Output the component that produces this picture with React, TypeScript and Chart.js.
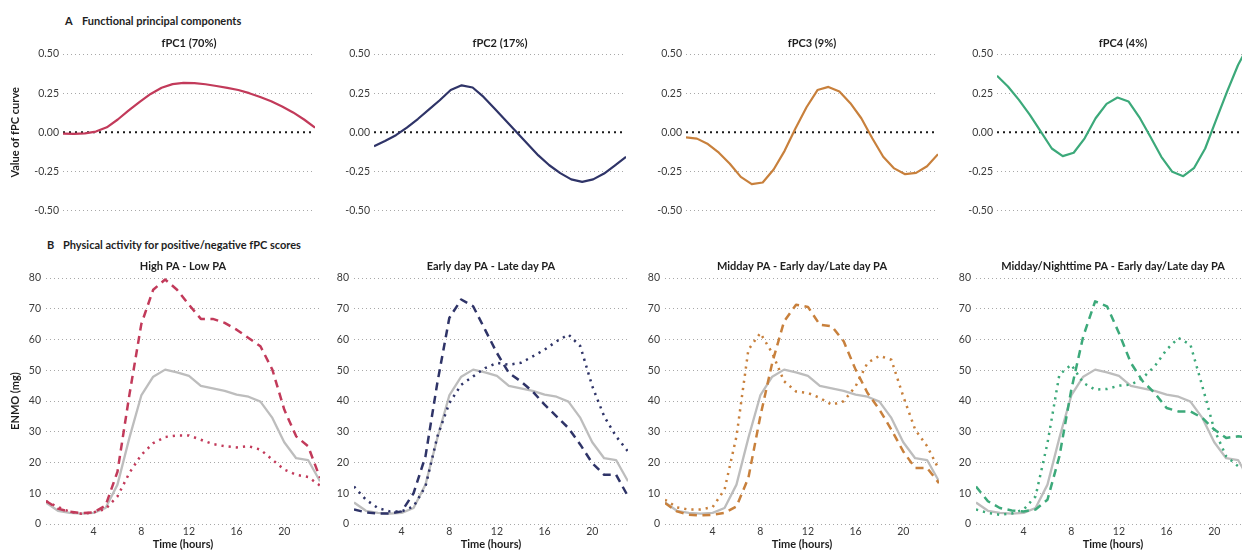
import React, { useEffect, useRef } from "react";
import { Chart, registerables } from "chart.js";

Chart.register(...registerables);

// ---------- data ----------
const hours = [0, 1, 2, 3, 4, 5, 6, 7, 8, 9, 10, 11, 12, 13, 14, 15, 16, 17, 18, 19, 20, 21, 22, 23];
const xTickValues = [4, 8, 12, 16, 20];
const topYTicks = [-0.5, -0.25, 0, 0.25, 0.5];
const bottomYTicks = [0, 10, 20, 30, 40, 50, 60, 70, 80];

const fpcTitles = ["fPC1 (70%)", "fPC2 (17%)", "fPC3 (9%)", "fPC4 (4%)"];
const paTitles = [
  "High PA - Low PA",
  "Early day PA - Late day PA",
  "Midday PA - Early day/Late day PA",
  "Midday/Nighttime PA - Early day/Late day PA",
];

const fpc1 = [-0.008, -0.01, -0.006, 0.005, 0.032, 0.082, 0.14, 0.195, 0.245, 0.285, 0.308, 0.316, 0.314, 0.307, 0.296, 0.284, 0.27, 0.25, 0.226, 0.198, 0.165, 0.127, 0.082, 0.03];
const fpc2 = [-0.088, -0.055, -0.018, 0.03, 0.085, 0.145, 0.205, 0.27, 0.3, 0.286, 0.226, 0.152, 0.077, 0.002, -0.073, -0.147, -0.21, -0.26, -0.3, -0.316, -0.3, -0.263, -0.21, -0.156];
const fpc3 = [-0.032, -0.04, -0.075, -0.13, -0.2, -0.284, -0.33, -0.32, -0.237, -0.118, 0.026, 0.16, 0.27, 0.29, 0.26, 0.186, 0.09, -0.038, -0.156, -0.23, -0.267, -0.259, -0.216, -0.139];
const fpc4 = [0.361, 0.293, 0.207, 0.111, 0.004, -0.103, -0.152, -0.13, -0.038, 0.09, 0.182, 0.222, 0.197, 0.096, -0.028, -0.156, -0.252, -0.28, -0.226, -0.103, 0.079, 0.26, 0.43, 0.56];

const meanEnmo = [7.0, 4.3, 3.6, 3.4, 3.6, 5.2, 12.8, 28, 41.8, 47.9, 50.2, 49.3, 48.2, 44.9, 44.1, 43.3, 42.1, 41.4, 39.8, 34.5, 26.6, 21.4, 20.8, 13.9];

const pa1High = [7.5, 5.0, 4.0, 3.5, 3.8, 6.0, 17, 42, 65, 76.2, 79.5, 76.2, 71.3, 66.7, 66.7, 65.4, 63.2, 60.5, 57.8, 50.2, 37.2, 28.5, 25.3, 15];
const pa1Low = [7.4, 5.5, 4.0, 3.3, 3.8, 4.9, 9, 16.6, 22.5, 26.3, 28.3, 28.8, 28.8, 27.4, 26, 25.3, 24.9, 25.3, 24.2, 20.9, 17.7, 16, 15.3, 12.5];
const pa2Early = [4.7, 3.8, 3.4, 3.4, 4.1, 10, 22, 46, 67, 73, 70.8, 63.2, 55.6, 49.1, 46.4, 43.1, 38.8, 35, 31.2, 25.8, 19.8, 16, 16, 9];
const pa2Late = [12.2, 7.9, 5.2, 4.1, 4.1, 5.7, 12.2, 28.5, 39.3, 45.3, 48, 50.7, 52.4, 51.8, 52.4, 54.5, 56.7, 59.4, 61.6, 57.8, 44.8, 35, 28.5, 23.6];
const pa3Midday = [6.8, 4.1, 3.0, 2.8, 3.0, 3.6, 5.7, 15, 35, 52.4, 65.9, 71.3, 70.6, 64.8, 64.3, 59.4, 50.2, 42.6, 37.2, 30.7, 23.6, 18.2, 18.2, 13.3];
const pa3EarlyLate = [7.9, 5.4, 4.7, 4.7, 5.5, 11.2, 28.5, 56.7, 62.1, 55.6, 46.4, 43.1, 42.6, 41, 38.8, 39.9, 44.8, 52.4, 54.7, 53.4, 41.5, 30.7, 25.3, 17.7];
const pa4MiddayNight = [12.2, 7.4, 5.2, 4.4, 4.1, 4.7, 7.9, 22, 43.7, 61, 72.4, 70.8, 62.1, 52.4, 46.4, 42.6, 37.7, 36.6, 36.6, 34.5, 30.7, 28, 28.5, 28];
const pa4EarlyLate = [4.7, 3.6, 3.0, 3.4, 4.7, 9, 26.3, 48.6, 51.8, 45.9, 43.7, 43.9, 45, 45.3, 47.5, 51.3, 56.7, 60.5, 58.3, 44.8, 30.7, 22, 18.8, 17];

// ---------- styles ----------
const COLORS = ["#C23A5A", "#2F3468", "#C8803C", "#3CA97A"];
const GREY = "#BDBDBD";
const FONT = 'Lato, "Open Sans", sans-serif';
const TEXT = "#1e1e1e";
const TICK = "#3a3a3a";

type Series = { data: number[]; color: string; style: "solid" | "dashed" | "dotted"; width: number };
type PanelSpec = {
  row: "top" | "bottom";
  col: number;
  title: string;
  series: Series[];
};

const topLefts = [63, 374, 686, 997];
const bottomLefts = [46, 354, 665, 976];

const panels: PanelSpec[] = [
  { row: "top", col: 0, title: fpcTitles[0], series: [{ data: fpc1, color: COLORS[0], style: "solid", width: 2.2 }] },
  { row: "top", col: 1, title: fpcTitles[1], series: [{ data: fpc2, color: COLORS[1], style: "solid", width: 2.2 }] },
  { row: "top", col: 2, title: fpcTitles[2], series: [{ data: fpc3, color: COLORS[2], style: "solid", width: 2.2 }] },
  { row: "top", col: 3, title: fpcTitles[3], series: [{ data: fpc4, color: COLORS[3], style: "solid", width: 2.2 }] },
  {
    row: "bottom", col: 0, title: paTitles[0], series: [
      { data: pa1High, color: COLORS[0], style: "dashed", width: 2.5 },
      { data: pa1Low, color: COLORS[0], style: "dotted", width: 2.5 },
      { data: meanEnmo, color: GREY, style: "solid", width: 2.3 },
    ],
  },
  {
    row: "bottom", col: 1, title: paTitles[1], series: [
      { data: pa2Early, color: COLORS[1], style: "dashed", width: 2.5 },
      { data: pa2Late, color: COLORS[1], style: "dotted", width: 2.5 },
      { data: meanEnmo, color: GREY, style: "solid", width: 2.3 },
    ],
  },
  {
    row: "bottom", col: 2, title: paTitles[2], series: [
      { data: pa3Midday, color: COLORS[2], style: "dashed", width: 2.5 },
      { data: pa3EarlyLate, color: COLORS[2], style: "dotted", width: 2.5 },
      { data: meanEnmo, color: GREY, style: "solid", width: 2.3 },
    ],
  },
  {
    row: "bottom", col: 3, title: paTitles[3], series: [
      { data: pa4MiddayNight, color: COLORS[3], style: "dashed", width: 2.5 },
      { data: pa4EarlyLate, color: COLORS[3], style: "dotted", width: 2.5 },
      { data: meanEnmo, color: GREY, style: "solid", width: 2.3 },
    ],
  },
];

const TITLE_LH = 13.2; // 11px * 1.2

function geometry(p: PanelSpec) {
  if (p.row === "top") {
    const yW = p.col === 0 ? 63 : 45;
    const plotW = 252;
    const canvasTop = 37;
    const titlePadBottom = 3.8;
    const plotH = 157;
    const padBottom = 10;
    return {
      left: topLefts[p.col] - yW,
      top: canvasTop,
      width: yW + plotW + 2,
      height: Math.round(TITLE_LH + titlePadBottom + plotH + padBottom),
      yW,
      titlePadBottom,
      padBottom,
      xH: 0,
    };
  }
  const yW = p.col === 0 ? 46 : 40;
  const plotW = 274;
  const canvasTop = 260;
  return {
    left: bottomLefts[p.col] - yW,
    top: canvasTop,
    width: yW + plotW + 2,
    height: 551 - canvasTop,
    yW,
    titlePadBottom: 4.8,
    padBottom: 0,
    xH: 27,
  };
}

function Panel({ spec }: { spec: PanelSpec }) {
  const ref = useRef<HTMLCanvasElement | null>(null);
  const g = geometry(spec);
  useEffect(() => {
    if (!ref.current) return;
    const isTop = spec.row === "top";
    const datasets: any[] = spec.series.map((s) => ({
      data: hours.map((h, i) => ({ x: h, y: s.data[i] })),
      borderColor: s.color,
      backgroundColor: s.color,
      borderWidth: s.width,
      borderDash: s.style === "dashed" ? [8, 5.5] : s.style === "dotted" ? [2.2, 5] : [],
      pointRadius: 0,
      tension: 0,
      fill: false,
      borderJoinStyle: "round",
    }));
    if (isTop) {
      datasets.push({
        data: [
          { x: hours[0], y: 0 },
          { x: hours[hours.length - 1], y: 0 },
        ],
        borderColor: "#1a1a1a",
        borderWidth: 2,
        borderDash: [2, 4],
        pointRadius: 0,
        fill: false,
      });
    }
    const yTicks = isTop ? topYTicks : bottomYTicks;
    const chart = new Chart(ref.current, {
      type: "line",
      data: { datasets },
      options: {
        animation: false,
        responsive: false,
        devicePixelRatio: 1,
        layout: { padding: { left: 0, top: 0, right: 2, bottom: g.padBottom } },
        plugins: {
          legend: { display: false },
          tooltip: { enabled: false },
          title: {
            display: true,
            text: spec.title,
            fullSize: false,
            align: "center",
            color: TEXT,
            font: { family: FONT, size: 11, weight: "bold", lineHeight: 1.2 },
            padding: { top: 0, bottom: g.titlePadBottom },
          },
        },
        scales: {
          x: {
            type: "linear",
            min: 0,
            max: 23,
            display: !isTop,
            grid: { display: false, drawTicks: false },
            border: { display: false },
            afterBuildTicks: (scale: any) => {
              scale.ticks = xTickValues.map((v) => ({ value: v }));
            },
            afterFit: (scale: any) => {
              scale.height = g.xH;
            },
            ticks: {
              color: TICK,
              padding: 1,
              maxRotation: 0,
              font: { family: FONT, size: 10.5, lineHeight: 1.2 },
            },
            title: {
              display: !isTop,
              text: "Time (hours)",
              color: TEXT,
              font: { family: FONT, size: 11, weight: "bold", lineHeight: 1.2 },
              padding: { top: 0, bottom: 0 },
            },
          },
          y: {
            type: "linear",
            min: yTicks[0],
            max: yTicks[yTicks.length - 1],
            afterBuildTicks: (scale: any) => {
              scale.ticks = yTicks.map((v) => ({ value: v }));
            },
            afterFit: (scale: any) => {
              scale.width = g.yW;
            },
            grid: {
              drawTicks: false,
              lineWidth: 1,
              color: (ctx: any) =>
                isTop && ctx.tick && ctx.tick.value === 0 ? "rgba(0,0,0,0)" : "#A8A8A8",
            },
            border: { display: false, dash: [1, 3] },
            ticks: {
              color: TICK,
              padding: isTop ? 4 : 5,
              font: { family: FONT, size: 10.5, lineHeight: 1.2 },
              callback: (v: any) => (isTop ? Number(v).toFixed(2) : String(v)),
            },
            title: {
              display: spec.col === 0,
              text: isTop ? "Value of fPC curve" : "ENMO (mg)",
              color: TEXT,
              font: { family: FONT, size: 11, weight: "bold", lineHeight: 1.2 },
              padding: { top: 8.4, bottom: 0 },
            },
          },
        },
      } as any,
    });
    return () => chart.destroy();
  }, []);
  return (
    <canvas
      ref={ref}
      width={g.width}
      height={g.height}
      style={{ position: "absolute", left: g.left, top: g.top, width: g.width, height: g.height }}
    />
  );
}

const headerStyle: React.CSSProperties = {
  position: "absolute",
  fontFamily: FONT,
  fontWeight: 700,
  fontSize: 11,
  lineHeight: "14px",
  color: TEXT,
  whiteSpace: "nowrap",
};

export default function App() {
  return (
    <div
      style={{
        position: "fixed",
        left: 0,
        top: 0,
        width: 1242,
        height: 551,
        overflow: "hidden",
        background: "#fff",
      }}
    >
      <span style={{ ...headerStyle, left: 65, top: 14 }}>A</span>
      <span style={{ ...headerStyle, left: 82, top: 14 }}>Functional principal components</span>
      <span style={{ ...headerStyle, left: 47, top: 238 }}>B</span>
      <span style={{ ...headerStyle, left: 63, top: 238 }}>Physical activity for positive/negative fPC scores</span>
      {panels.map((p, i) => (
        <Panel key={i} spec={p} />
      ))}
    </div>
  );
}
